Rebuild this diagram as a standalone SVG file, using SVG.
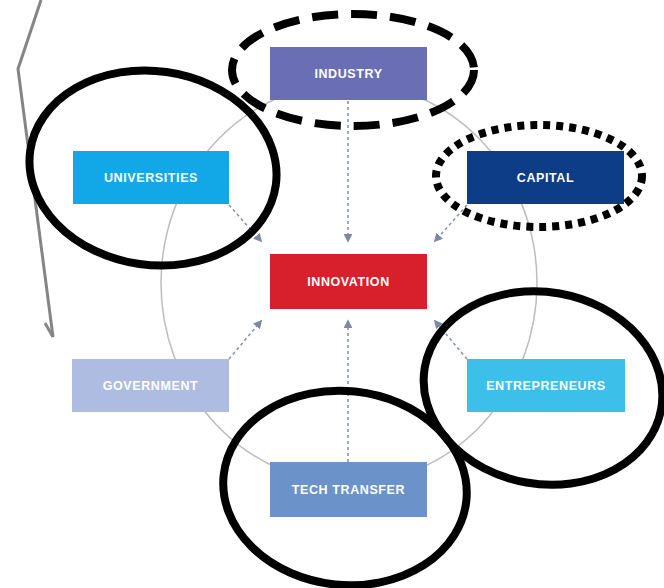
<svg xmlns="http://www.w3.org/2000/svg" width="664" height="588" viewBox="0 0 664 588">
<style>
.lbl{font-family:"Liberation Sans",Arial,sans-serif;font-size:12.5px;font-weight:bold;fill:#ffffff;text-anchor:middle;letter-spacing:0.6px}
.ring{fill:none;stroke:#bdbdbd;stroke-width:1.5}
.dash{fill:none;stroke:#8a93aa;stroke-width:1.6;stroke-dasharray:3 3}
.mark{fill:none;stroke:#000;stroke-width:8}
</style>
<defs>
<marker id="ah" viewBox="0 0 10 10" refX="8" refY="5" markerWidth="5.5" markerHeight="5.5" orient="auto" markerUnits="strokeWidth">
<path d="M0,0 L10,5 L0,10 Z" fill="#7e88a3"/>
</marker>
</defs>
<rect width="664" height="588" fill="#ffffff"/>
<g id="connectors">
<ellipse class="ring" cx="349" cy="283" rx="188" ry="200"/>
<line class="dash" x1="348" y1="101" x2="348" y2="241" marker-end="url(#ah)"/>
<line class="dash" x1="229" y1="205" x2="261" y2="241" marker-end="url(#ah)"/>
<line class="dash" x1="467" y1="205" x2="435" y2="241" marker-end="url(#ah)"/>
<line class="dash" x1="229" y1="359" x2="261" y2="321" marker-end="url(#ah)"/>
<line class="dash" x1="348" y1="462" x2="348" y2="321" marker-end="url(#ah)"/>
<line class="dash" x1="467" y1="359" x2="435" y2="321" marker-end="url(#ah)"/>
</g>
<g id="industry">
<rect x="270" y="47" width="157" height="53" fill="#6a6fb5"/>
<text class="lbl" x="348.5" y="78">INDUSTRY</text>
</g>
<g id="universities">
<rect x="73" y="151" width="156" height="53" fill="#12a8e8"/>
<text class="lbl" x="151" y="182">UNIVERSITIES</text>
</g>
<g id="capital">
<rect x="467" y="151" width="157" height="53" fill="#0d3d87"/>
<text class="lbl" x="545.5" y="182">CAPITAL</text>
</g>
<g id="innovation">
<rect x="270" y="254" width="157" height="55" fill="#d7202b"/>
<text class="lbl" x="348.5" y="286">INNOVATION</text>
</g>
<g id="government">
<rect x="72" y="359" width="157" height="53" fill="#adbce0"/>
<text class="lbl" x="150.5" y="390">GOVERNMENT</text>
</g>
<g id="entrepreneurs">
<rect x="467" y="359" width="158" height="53" fill="#3cbfe8"/>
<text class="lbl" x="546" y="390">ENTREPRENEURS</text>
</g>
<g id="tech-transfer">
<rect x="270" y="462" width="157" height="55" fill="#6b93ca"/>
<text class="lbl" x="348.5" y="494">TECH TRANSFER</text>
</g>
<g id="annotations">
<polyline points="41,0 18,69 53,337" fill="none" stroke="#858585" stroke-width="3" stroke-linejoin="miter"/>
<line x1="45" y1="323" x2="53" y2="337" stroke="#858585" stroke-width="3"/>
<ellipse class="mark" cx="353" cy="70" rx="121" ry="56" stroke-dasharray="26 13"/>
<ellipse class="mark" cx="153" cy="168" rx="124" ry="97" transform="rotate(8 153 168)"/>
<ellipse class="mark" cx="539" cy="176" rx="103" ry="51" stroke-width="7" stroke-dasharray="7 6"/>
<ellipse class="mark" cx="543" cy="388" rx="120" ry="96" transform="rotate(10 543 388)"/>
<ellipse class="mark" cx="345" cy="488" rx="122" ry="97" transform="rotate(6 345 488)"/>
</g>
</svg>
